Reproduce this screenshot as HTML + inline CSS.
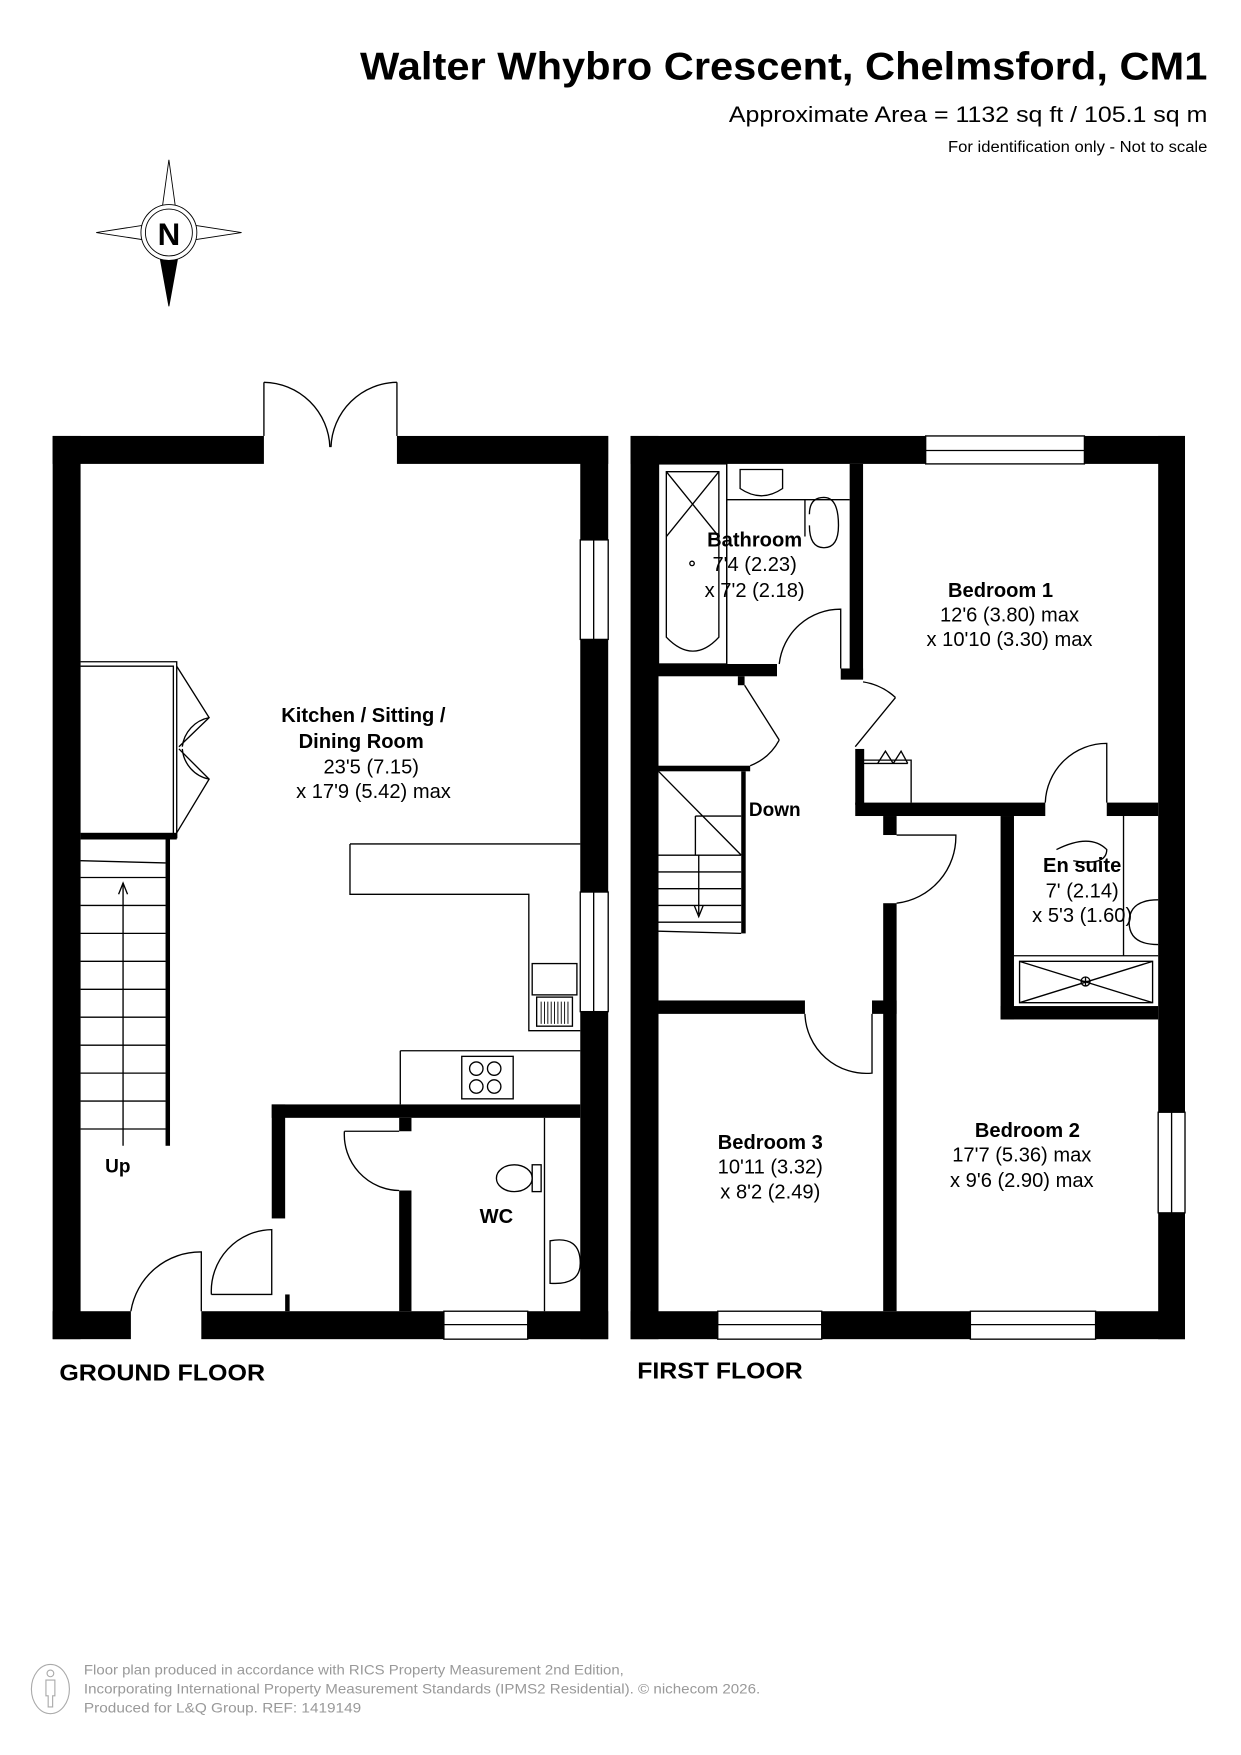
<!DOCTYPE html>
<html><head><meta charset="utf-8"><style>
html,body{margin:0;padding:0;background:#fff}
svg{display:block}
text{font-family:"Liberation Sans",Arial,sans-serif;fill:#000}
.b{font-weight:bold}
</style></head><body>
<svg width="1241" height="1755" viewBox="0 0 1110 1570" xmlns="http://www.w3.org/2000/svg">
<rect width="1110" height="1570" fill="#fff"/>
<!-- header -->
<text x="322" y="71" font-size="35" class="b" textLength="758" lengthAdjust="spacingAndGlyphs">Walter Whybro Crescent, Chelmsford, CM1</text>
<text x="652" y="109" font-size="20" textLength="428" lengthAdjust="spacingAndGlyphs">Approximate Area = 1132 sq ft / 105.1 sq m</text>
<text x="848" y="136" font-size="14" textLength="232" lengthAdjust="spacingAndGlyphs">For identification only - Not to scale</text>
<!-- compass -->
<g stroke="#000" stroke-width="0.8" fill="#fff">
<polygon points="151,143 142,208 160,208"/>
<polygon points="86,208 151,198 151,218"/>
<polygon points="216,208 151,198 151,218"/>
<polygon points="151,274 139,208 163,208" fill="#000"/>
<circle cx="151" cy="208" r="25"/>
<circle cx="151" cy="208" r="21"/>
</g>
<text x="151" y="219" font-size="28" class="b" text-anchor="middle">N</text>

<!-- GROUND FLOOR -->
<g fill="#000">
<rect x="47" y="390" width="189" height="25"/>
<rect x="355" y="390" width="189" height="25"/>
<rect x="47" y="390" width="25" height="808"/>
<rect x="519" y="390" width="25" height="93"/>
<rect x="519" y="572" width="25" height="226"/>
<rect x="519" y="905" width="25" height="293"/>
<rect x="47" y="1173" width="70" height="25"/>
<rect x="180" y="1173" width="217" height="25"/>
<rect x="472" y="1173" width="72" height="25"/>
<rect x="243" y="988" width="276" height="12"/>
<rect x="243" y="988" width="12" height="102"/>
<rect x="357" y="1000" width="11" height="12"/>
<rect x="357" y="1065" width="11" height="108"/>
<rect x="255" y="1158" width="4" height="15"/>
<rect x="72" y="745" width="86" height="6"/>
<rect x="148" y="751" width="4" height="274"/>
</g>
<g fill="none" stroke="#000" stroke-width="1.2">
<line x1="236" y1="342" x2="236" y2="390"/><line x1="355" y1="342" x2="355" y2="390"/>
<path d="M236,342 A60,60 0 0 1 295,400"/><path d="M355,342 A60,60 0 0 0 296,400"/>
<rect x="519" y="483" width="25" height="89"/><line x1="531" y1="483" x2="531" y2="572"/>
<rect x="519" y="798" width="25" height="107"/><line x1="531" y1="798" x2="531" y2="905"/>
<rect x="397" y="1173" width="75" height="25"/><line x1="397" y1="1185" x2="472" y2="1185"/>
<path d="M72,592 H158 V750 M72,596 H155 V747"/>
<path d="M158,596 L187,642 L160,668 M158,745 L187,697 L160,670"/>
<path d="M187,642 A30,30 0 0 0 163,668 M187,697 A30,30 0 0 1 163,670"/>
<line x1="72" y1="770" x2="148" y2="772"/>
<line x1="72" y1="785" x2="148" y2="785"/>
<line x1="110" y1="790" x2="110" y2="1025"/>
<path d="M72,810H148M72,835H148M72,860H148M72,885H148M72,910H148M72,935H148M72,960H148M72,985H148M72,1010H148"/>
<path d="M106,800 L110,790 L114,800"/>
<path d="M313,755 H519 M313,755 V800 H473 V922 H519 M358,940 V988 M358,940 H519"/>
<rect x="476" y="862" width="40" height="28"/>
<rect x="480" y="892" width="32" height="26"/>
<path d="M484,896v20M487,896v20M490,896v20M493,896v20M496,896v20M499,896v20M502,896v20M505,896v20M508,896v20" stroke-width="0.8"/>
<rect x="413" y="945" width="46" height="38"/>
<circle cx="426" cy="956" r="6"/><circle cx="442" cy="956" r="6"/><circle cx="426" cy="972" r="6"/><circle cx="442" cy="972" r="6"/>
<path d="M117,1173 A63,63 0 0 1 180,1120 V1173"/>
<path d="M189,1158 A55,55 0 0 1 243,1100 V1158 H189"/>
<path d="M308,1012 H357 M308,1012 A50,50 0 0 0 357,1065"/>
<line x1="487" y1="1000" x2="487" y2="1173"/>
<ellipse cx="460" cy="1054" rx="16" ry="12"/><rect x="476" y="1042" width="8" height="24"/>
<path d="M492,1110 Q519,1105 519,1130 Q519,1150 492,1148 Z"/>
</g>
<text x="325" y="646" font-size="18" class="b" text-anchor="middle">Kitchen / Sitting /</text>
<text x="323" y="669" font-size="18" class="b" text-anchor="middle">Dining Room</text>
<text x="332" y="692" font-size="18" text-anchor="middle">23'5 (7.15)</text>
<text x="334" y="714" font-size="18" text-anchor="middle">x 17'9 (5.42) max</text>
<text x="94" y="1049" font-size="17" class="b">Up</text>
<text x="444" y="1094" font-size="18" class="b" text-anchor="middle">WC</text>
<text x="53" y="1235" font-size="21" class="b" textLength="184" lengthAdjust="spacingAndGlyphs">GROUND FLOOR</text>

<!-- FIRST FLOOR -->
<g fill="#000">
<rect x="564" y="390" width="264" height="25"/>
<rect x="970" y="390" width="90" height="25"/>
<rect x="564" y="390" width="25" height="808"/>
<rect x="1036" y="390" width="24" height="605"/>
<rect x="1036" y="1085" width="24" height="113"/>
<rect x="564" y="1173" width="78" height="25"/>
<rect x="735" y="1173" width="133" height="25"/>
<rect x="980" y="1173" width="80" height="25"/>
<rect x="589" y="594" width="106" height="11"/>
<rect x="660" y="605" width="6" height="8"/>
<rect x="760" y="415" width="12" height="192"/>
<rect x="752" y="598" width="20" height="10"/>
<rect x="765" y="670" width="8" height="50"/>
<rect x="765" y="718" width="170" height="12"/>
<rect x="990" y="718" width="46" height="12"/>
<rect x="790" y="730" width="12" height="17"/>
<rect x="790" y="808" width="12" height="365"/>
<rect x="895" y="730" width="12" height="182"/>
<rect x="895" y="900" width="141" height="12"/>
<rect x="589" y="895" width="131" height="12"/>
<rect x="780" y="895" width="22" height="12"/>
<rect x="589" y="685" width="82" height="5"/>
<rect x="663" y="690" width="4" height="145"/>
</g>
<g fill="none" stroke="#000" stroke-width="1.2">
<rect x="828" y="390" width="142" height="25"/><line x1="828" y1="403" x2="970" y2="403"/>
<rect x="1036" y="995" width="24" height="90"/><line x1="1048" y1="995" x2="1048" y2="1085"/>
<rect x="642" y="1173" width="93" height="25"/><line x1="642" y1="1185" x2="735" y2="1185"/>
<rect x="868" y="1173" width="112" height="25"/><line x1="868" y1="1185" x2="980" y2="1185"/>
<rect x="589" y="415" width="61" height="179"/>
<path d="M596,422 H643 V570 Q620,595 596,570 Z"/>
<path d="M596,422 L643,480 M643,422 L596,480"/>
<circle cx="619" cy="504" r="2"/>
<path d="M650,415 V594 M650,447 H760"/>
<path d="M662,420 H700 V437 Q681,450 662,437 Z"/>
<path d="M720,447 V480 M724,460 Q724,445 737,445 Q750,445 750,470 Q750,490 737,490 Q724,490 724,470"/>
<path d="M697,594 A55,55 0 0 1 752,545 V598"/>
<path d="M666,613 L697,662 M697,662 A50,50 0 0 1 671,685"/>
<path d="M765,668 L801,624 M801,624 A55,55 0 0 0 772,610"/>
<path d="M772,680 H815 V718 M772,683 H812 M785,683 L792,672 L799,683 M799,683 L806,672 L812,683"/>
<path d="M935,718 A55,55 0 0 1 990,665 V718"/>
<path d="M802,747 H855 A60,60 0 0 1 802,808"/>
<path d="M720,907 A55,55 0 0 0 780,960 V907"/>
<path d="M589,690 L663,765 M622,730 H663 M622,730 V765 M589,765 H663 M589,780 H663 M589,795 H663 M589,810 H663 M589,825 H663 M589,833 L663,835"/>
<path d="M625,765 V818 M621,810 L625,820 L629,810"/>
<path d="M1005,730 V855 M907,855 H1036"/>
<path d="M912,860 H1031 V897 H912 Z M912,860 L1031,897 M1031,860 L912,897"/>
<circle cx="971" cy="878" r="4"/><line x1="967" y1="878" x2="975" y2="878"/><line x1="971" y1="874" x2="971" y2="882"/>
<path d="M1036,805 Q1010,805 1010,825 Q1010,845 1036,845"/>
<path d="M945,760 Q975,745 990,760 Q990,775 960,770"/>
</g>
<text x="675" y="489" font-size="18" class="b" text-anchor="middle">Bathroom</text>
<text x="675" y="511" font-size="18" text-anchor="middle">7'4 (2.23)</text>
<text x="675" y="534" font-size="18" text-anchor="middle">x 7'2 (2.18)</text>
<text x="895" y="534" font-size="18" class="b" text-anchor="middle">Bedroom 1</text>
<text x="903" y="556" font-size="18" text-anchor="middle">12'6 (3.80) max</text>
<text x="903" y="578" font-size="18" text-anchor="middle">x 10'10 (3.30) max</text>
<text x="693" y="730" font-size="17" class="b" text-anchor="middle">Down</text>
<text x="968" y="780" font-size="18" class="b" text-anchor="middle">En suite</text>
<text x="968" y="803" font-size="18" text-anchor="middle">7' (2.14)</text>
<text x="968" y="825" font-size="18" text-anchor="middle">x 5'3 (1.60)</text>
<text x="919" y="1017" font-size="18" class="b" text-anchor="middle">Bedroom 2</text>
<text x="914" y="1039" font-size="18" text-anchor="middle">17'7 (5.36) max</text>
<text x="914" y="1062" font-size="18" text-anchor="middle">x 9'6 (2.90) max</text>
<text x="689" y="1028" font-size="18" class="b" text-anchor="middle">Bedroom 3</text>
<text x="689" y="1050" font-size="18" text-anchor="middle">10'11 (3.32)</text>
<text x="689" y="1072" font-size="18" text-anchor="middle">x 8'2 (2.49)</text>
<text x="570" y="1233" font-size="21" class="b" textLength="148" lengthAdjust="spacingAndGlyphs">FIRST FLOOR</text>

<!-- footer -->
<g fill="none" stroke="#aaa" stroke-width="1">
<ellipse cx="45" cy="1511" rx="17" ry="22"/>
<circle cx="45" cy="1497" r="3"/>
<path d="M41,1503 h8 v14 h-2 v10 h-4 v-10 h-2 z"/>
</g>
<text x="75" y="1498" font-size="12.5" fill="#999" style="fill:#999" textLength="483" lengthAdjust="spacingAndGlyphs">Floor plan produced in accordance with RICS Property Measurement 2nd Edition,</text>
<text x="75" y="1515" font-size="12.5" style="fill:#999" textLength="605" lengthAdjust="spacingAndGlyphs">Incorporating International Property Measurement Standards (IPMS2 Residential).   © nichecom 2026.</text>
<text x="75" y="1532" font-size="12.5" style="fill:#999" textLength="248" lengthAdjust="spacingAndGlyphs">Produced for L&amp;Q Group.   REF: 1419149</text>
</svg>
</body></html>
